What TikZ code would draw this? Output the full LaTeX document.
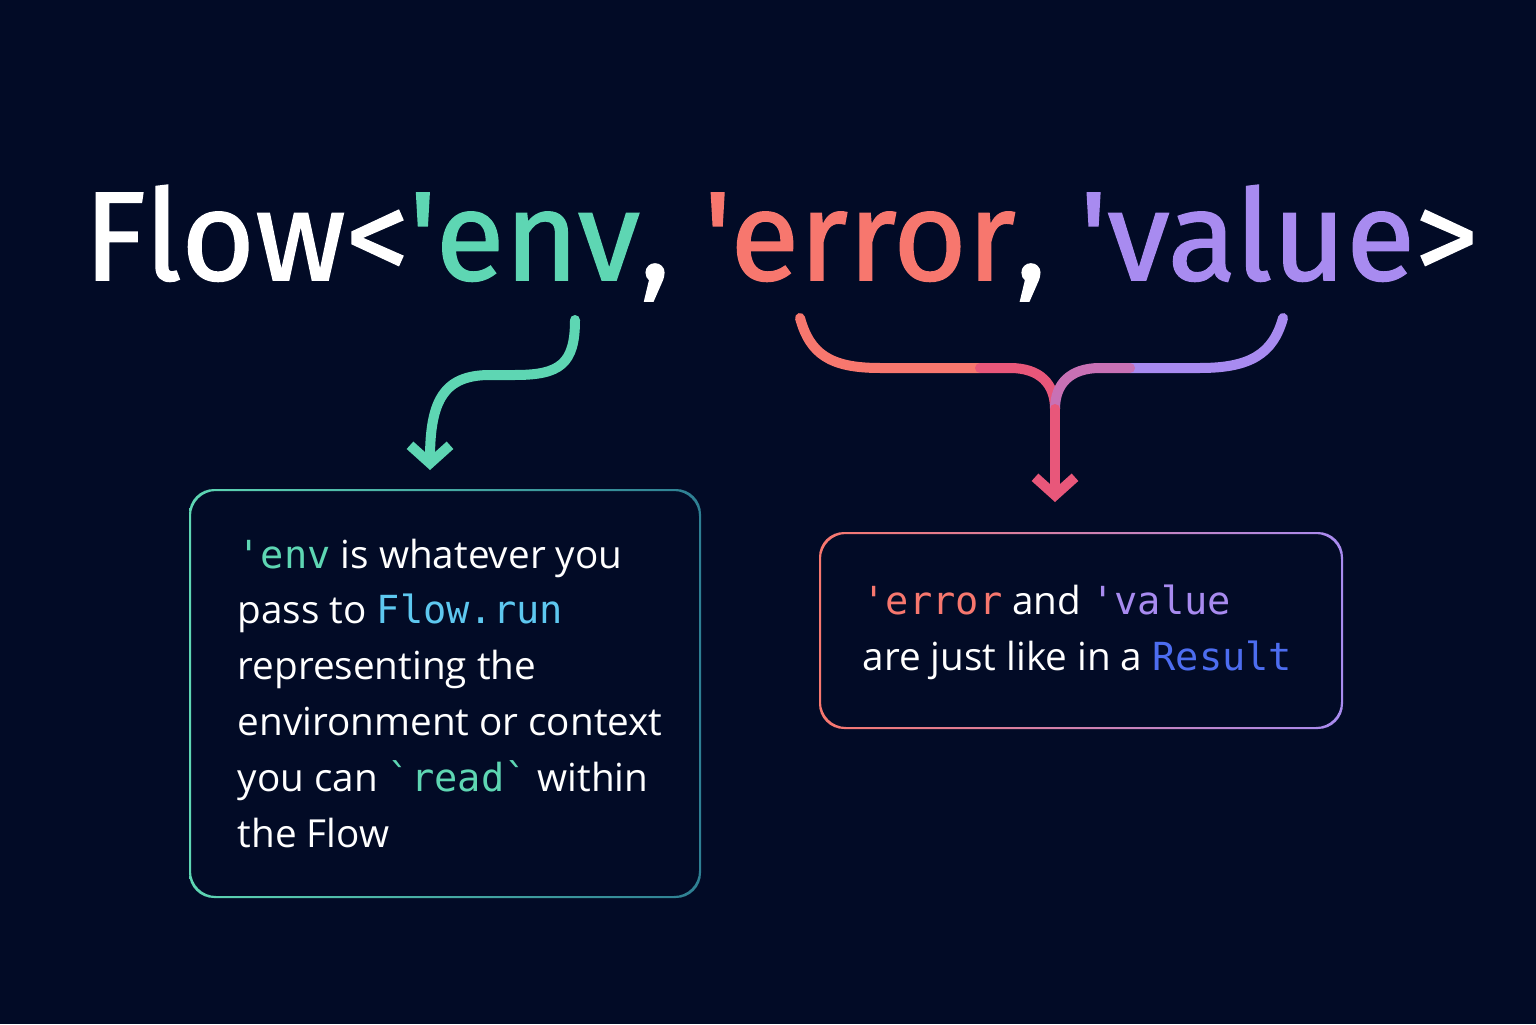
\documentclass[tikz,border=0pt]{standalone}
\usepackage{fontspec}
\setmainfont{Open Sans}
\setmonofont{DejaVu Sans Mono}
\newfontfamily\titlefont{Fira Sans}[FakeBold=1.2]
\usetikzlibrary{positioning,arrows.meta}
\definecolor{bg}{HTML}{020B26}
\definecolor{teal}{HTML}{5ED6B3}
\definecolor{tealdark}{HTML}{2E7F93}
\definecolor{coral}{HTML}{F7776E}
\definecolor{violet}{HTML}{A88BF0}
\definecolor{rose}{HTML}{E8577A}
\definecolor{sky}{HTML}{5EC8F0}
\definecolor{royal}{HTML}{4D6DF0}
\tikzset{
  boxtext/.style={text=white, align=left, anchor=north west, inner sep=0pt,
    font=\fontsize{11}{15.9}\selectfont},
  link/.style={line width=1mm, line cap=round},
}
\begin{document}
\begin{tikzpicture}[x=1cm,y=1cm]
  \fill[bg] (0,0) rectangle (15.36,10.24);
  \useasboundingbox (0,0) rectangle (15.36,10.24);
  % title
  \node (title) [anchor=base, text=white, inner sep=0pt,
    font=\titlefont\fontsize{36}{40}\selectfont] at (7.81,7.44)
    {Flow<\textcolor{teal}{'env}, \textcolor{coral}{'error}, \textcolor{violet}{'value}>};
  % boxes
  \shade[left color=teal, right color=tealdark, even odd rule]
    [rounded corners=0.25cm] (1.89,1.26) rectangle (7.01,5.35)
    (1.91,1.28) rectangle (6.99,5.33);
  \shade[left color=coral, right color=violet, even odd rule]
    [rounded corners=0.25cm] (8.19,2.95) rectangle (13.43,4.92)
    (8.21,2.97) rectangle (13.41,4.90);
  \node (envtext) [boxtext] at (2.37,4.86) {%
    \textcolor{teal}{\texttt{'env}} is whatever you\\
    pass to \textcolor{sky}{\texttt{Flow.run}}\\
    representing the\\
    environment or context\\
    you can \textcolor{teal}{\texttt{`read`}} within\\
    the Flow};
  \node (restext) [boxtext] at (8.62,4.40) {%
    \textcolor{coral}{\texttt{'error}} and \textcolor{violet}{\texttt{'value}}\\
    are just like in a \textcolor{royal}{\texttt{Result}}};
  % connectors
  \coordinate (envtip) at (5.75,7.04);
  \coordinate (envhead) at (4.30,5.54);
  \draw[link, teal, -{Straight Barb[length=1.8mm,width=4mm]}]
    (envtip) .. controls (5.75,6.6) and (5.6,6.49) .. (5.15,6.49)
    -- (4.9,6.49) .. controls (4.45,6.49) and (4.30,6.25) .. (envhead);
  \coordinate (errtip) at (8.00,7.06);
  \coordinate (valtip) at (12.83,7.06);
  \coordinate (fork) at (10.55,6.15);
  \coordinate (reshead) at (10.55,5.22);
  \draw[link, coral]
    (errtip) .. controls (8.1,6.7) and (8.3,6.56) .. (8.8,6.56) -- (9.8,6.56);
  \draw[link, rose]
    (9.8,6.56) -- (10.1,6.56) .. controls (10.4,6.56) and (10.55,6.4) .. (fork);
  \draw[link, violet]
    (valtip) .. controls (12.73,6.7) and (12.5,6.56) .. (12.0,6.56) -- (11.3,6.56);
  \draw[link, violet!50!rose]
    (11.3,6.56) -- (11.0,6.56) .. controls (10.7,6.56) and (10.55,6.4) .. (fork);
  \draw[link, rose, -{Straight Barb[length=1.8mm,width=4mm]}] (fork) -- (reshead);
\end{tikzpicture}
\end{document}
